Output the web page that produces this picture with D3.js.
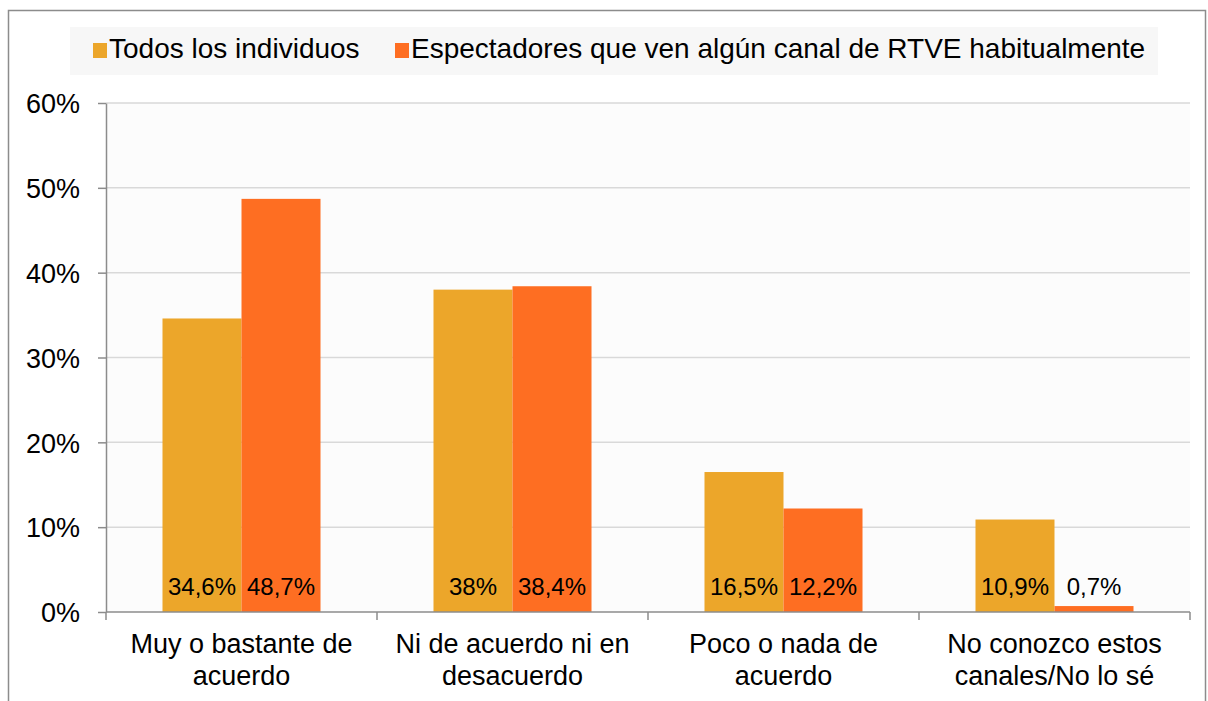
<!DOCTYPE html>
<html><head><meta charset="utf-8">
<script src="https://cdn.jsdelivr.net/npm/d3@7"></script>
<style>body{margin:0;background:#fff;}svg{display:block;font-family:"Liberation Sans",Arial,sans-serif;}</style>
</head><body>
<svg id="c" width="1208" height="701"></svg>
<script>
const categories = [["Muy o bastante de","acuerdo"],["Ni de acuerdo ni en","desacuerdo"],["Poco o nada de","acuerdo"],["No conozco estos","canales/No lo sé"]];
const seriesNames = ["Todos los individuos","Espectadores que ven algún canal de RTVE habitualmente"];
const todos = [34.6, 38, 16.5, 10.9];
const espectadores = [48.7, 38.4, 12.2, 0.7];
const labelsTodos = ["34,6%","38%","16,5%","10,9%"];
const labelsEsp = ["48,7%","38,4%","12,2%","0,7%"];
const yTicks = [0,10,20,30,40,50,60];
const colors = ["#ECA62A","#FE6E22"];

const svg = d3.select("#c");
const m = {l:106, r:1190, t:103, b:612};
// outer border
svg.append("rect").attr("x",8.5).attr("y",10.5).attr("width",1197).attr("height",720).attr("fill","#fff").attr("stroke","#8c8c8c").attr("stroke-width",1.5);
// plot bg
svg.append("rect").attr("x",m.l).attr("y",m.t).attr("width",m.r-m.l).attr("height",m.b-m.t).attr("fill","#fcfcfc");

const x0 = d3.scaleBand().domain(d3.range(categories.length)).range([m.l,m.r]).paddingInner(0).paddingOuter(0);
const x1 = d3.scaleBand().domain([0,1]).range([0,x0.bandwidth()]).paddingOuter(0.715).paddingInner(0);
const y = d3.scaleLinear().domain([0,60]).range([m.b,m.t]);

// gridlines
svg.append("g").selectAll("line").data(yTicks.slice(1)).join("line")
  .attr("x1",m.l).attr("x2",m.r).attr("y1",d=>y(d)).attr("y2",d=>y(d))
  .attr("stroke","#d9d9d9").attr("stroke-width",1.5);

// y axis
const ya = svg.append("g").attr("transform",`translate(${m.l},0)`)
  .call(d3.axisLeft(y).tickValues(yTicks).tickFormat(d=>d+"%").tickSize(8).tickSizeOuter(0));
ya.select(".domain").attr("stroke","#8c8c8c").attr("stroke-width",1.5);
ya.selectAll(".tick line").attr("stroke","#8c8c8c").attr("stroke-width",1.5);
ya.selectAll(".tick text").attr("font-size",27).attr("fill","#000").attr("x",-26).attr("dy","0.36em").attr("font-family","Liberation Sans, Arial, sans-serif");

// bars
const groups = svg.append("g").selectAll("g").data(categories.map((c,i)=>i)).join("g")
  .attr("transform",i=>`translate(${x0(i)},0)`);
const vals = [todos, espectadores];
const labs = [labelsTodos, labelsEsp];
groups.selectAll("rect").data(i=>[0,1].map(s=>({s,v:vals[s][i]}))).join("rect")
  .attr("x",d=>x1(d.s)).attr("width",x1.bandwidth())
  .attr("y",d=>y(d.v)).attr("height",d=>y(0)-y(d.v)).attr("fill",d=>colors[d.s]);
groups.selectAll("text").data(i=>[0,1].map(s=>({s,t:labs[s][i]}))).join("text")
  .attr("x",d=>x1(d.s)+x1.bandwidth()/2).attr("y",595)
  .attr("text-anchor","middle").attr("font-size",24).attr("fill","#000").text(d=>d.t);

// x axis
const xa = svg.append("g").attr("transform",`translate(0,${m.b})`);
xa.append("line").attr("x1",m.l).attr("x2",m.r).attr("stroke","#8c8c8c").attr("stroke-width",1.5);
xa.selectAll("line.t").data(d3.range(categories.length+1)).join("line").attr("class","t")
  .attr("x1",i=>m.l+i*x0.bandwidth()).attr("x2",i=>m.l+i*x0.bandwidth()).attr("y1",0).attr("y2",8)
  .attr("stroke","#8c8c8c").attr("stroke-width",1.5);
const xl = xa.selectAll("text").data(categories).join("text")
  .attr("x",(d,i)=>x0(i)+x0.bandwidth()/2).attr("y",41)
  .attr("text-anchor","middle").attr("font-size",27).attr("fill","#000");
xl.selectAll("tspan").data(d=>d).join("tspan")
  .attr("x",function(){return this.parentNode.getAttribute("x");})
  .attr("dy",(d,j)=>j?32:0).text(d=>d);

// legend
svg.append("rect").attr("x",70).attr("y",27).attr("width",1088).attr("height",48).attr("fill","#f7f7f7");
const lg = svg.append("g");
const lx = [93, 395];
seriesNames.forEach((n,i)=>{
  lg.append("rect").attr("x",lx[i]).attr("y",43).attr("width",14).attr("height",15).attr("fill",colors[i]);
  lg.append("text").attr("x",lx[i]+16).attr("y",58).attr("font-size",28).attr("fill","#000").text(n);
});
</script>
</body></html>
